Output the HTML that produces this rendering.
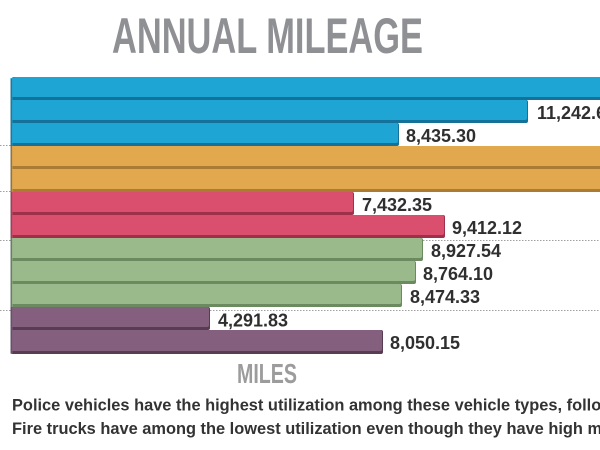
<!DOCTYPE html>
<html>
<head>
<meta charset="utf-8">
<style>
  html, body { margin: 0; padding: 0; background: #ffffff; }
  body { width: 600px; height: 450px; overflow: hidden; }
  svg { display: block; }
  text { font-family: "Liberation Sans", "DejaVu Sans", sans-serif; }
</style>
</head>
<body>
<svg width="600" height="450" viewBox="0 0 600 450" xmlns="http://www.w3.org/2000/svg">
  <rect x="0" y="0" width="600" height="450" fill="#ffffff"/>

  <!-- Title -->
  <text x="112" y="53" font-size="50" font-weight="bold" fill="#8f9094" textLength="311" lengthAdjust="spacingAndGlyphs">ANNUAL MILEAGE</text>

  <!-- gridlines / ticks -->
  <g stroke="#a0a0a0" stroke-width="1" stroke-dasharray="1.5 1.5" fill="none">
    <line x1="0" y1="145.5" x2="11" y2="145.5"/>
    <line x1="0" y1="191.5" x2="11" y2="191.5"/>
    <line x1="0" y1="240.5" x2="600" y2="240.5"/>
    <line x1="0" y1="310.5" x2="600" y2="310.5"/>
  </g>

  <!-- Bars -->
  <!-- blue -->
  <rect x="11" y="77" width="600" height="23" rx="3" fill="#14729a"/>
  <rect x="12.5" y="77" width="600" height="20" rx="3" fill="#1ea5d3"/>

  <rect x="11" y="100" width="517" height="23" rx="2" fill="#14729a"/>
  <rect x="12.5" y="100" width="514.5" height="20" rx="2" fill="#1ea5d3"/>

  <rect x="11" y="123" width="388" height="23" rx="2" fill="#14729a"/>
  <rect x="12.5" y="123" width="385.5" height="20" rx="2" fill="#1ea5d3"/>

  <!-- orange -->
  <rect x="11" y="146" width="600" height="23" fill="#a97b34"/>
  <rect x="12.5" y="146" width="600" height="20" fill="#e2a84e"/>
  <rect x="11" y="169" width="600" height="23" fill="#a97b34"/>
  <rect x="12.5" y="169" width="600" height="20" fill="#e2a84e"/>

  <!-- pink -->
  <rect x="11" y="192" width="343" height="23" rx="2" fill="#9f3049"/>
  <rect x="12.5" y="192" width="340.5" height="20" rx="2" fill="#d94f6d"/>
  <rect x="11" y="215" width="434" height="23" rx="2" fill="#9f3049"/>
  <rect x="12.5" y="215" width="431.5" height="20" rx="2" fill="#d94f6d"/>

  <!-- green -->
  <rect x="11" y="238" width="412" height="23" rx="2" fill="#6b8a60"/>
  <rect x="12.5" y="238" width="409.5" height="20" rx="2" fill="#9bba8c"/>
  <rect x="11" y="261" width="405" height="23" rx="2" fill="#6b8a60"/>
  <rect x="12.5" y="261" width="402.5" height="20" rx="2" fill="#9bba8c"/>
  <rect x="11" y="284" width="391" height="23" rx="2" fill="#6b8a60"/>
  <rect x="12.5" y="284" width="388.5" height="20" rx="2" fill="#9bba8c"/>

  <!-- purple -->
  <rect x="11" y="307" width="199" height="23" rx="2" fill="#573c52"/>
  <rect x="12.5" y="307" width="196.5" height="20" rx="2" fill="#85607e"/>
  <rect x="11" y="330" width="372" height="24" rx="2" fill="#573c52"/>
  <rect x="12.5" y="330" width="369.5" height="21" rx="2" fill="#85607e"/>

  <!-- square off left edges with a continuous dark stripe -->
  <rect x="10.5" y="78" width="4" height="22" fill="#1ea5d3"/>
  <rect x="10.5" y="100" width="4" height="46" fill="#1ea5d3"/>
  <rect x="10.5" y="146" width="4" height="46" fill="#e2a84e"/>
  <rect x="10.5" y="192" width="4" height="46" fill="#d94f6d"/>
  <rect x="10.5" y="238" width="4" height="69" fill="#9bba8c"/>
  <rect x="10.5" y="307" width="4" height="46" fill="#85607e"/>
  <g fill="#14729a">
    <rect x="12.5" y="97" width="2" height="3"/>
    <rect x="12.5" y="120" width="2" height="3"/>
    <rect x="12.5" y="143" width="2" height="3"/>
  </g>
  <g fill="#a97b34">
    <rect x="12.5" y="166" width="2" height="3"/>
    <rect x="12.5" y="189" width="2" height="3"/>
  </g>
  <g fill="#9f3049">
    <rect x="12.5" y="212" width="2" height="3"/>
    <rect x="12.5" y="235" width="2" height="3"/>
  </g>
  <g fill="#6b8a60">
    <rect x="12.5" y="258" width="2" height="3"/>
    <rect x="12.5" y="281" width="2" height="3"/>
    <rect x="12.5" y="304" width="2" height="3"/>
  </g>
  <g fill="#573c52">
    <rect x="12.5" y="327" width="2" height="3"/>
    <rect x="12.5" y="351" width="2" height="3"/>
  </g>
  <rect x="10.5" y="79" width="1.6" height="275" fill="#3f4a55" opacity="0.55"/>

  <!-- Value labels -->
  <g font-size="18" font-weight="bold" fill="#2f2f2f">
    <text x="537" y="119">11,242.68</text>
    <text x="406" y="142">8,435.30</text>
    <text x="362" y="211">7,432.35</text>
    <text x="452" y="234">9,412.12</text>
    <text x="431" y="257">8,927.54</text>
    <text x="423" y="280">8,764.10</text>
    <text x="410" y="303">8,474.33</text>
    <text x="218" y="326.5">4,291.83</text>
    <text x="390" y="349">8,050.15</text>
  </g>

  <!-- Axis label -->
  <text x="237" y="383" font-size="28" font-weight="bold" fill="#9c9c9c" textLength="60" lengthAdjust="spacingAndGlyphs">MILES</text>

  <!-- Caption -->
  <g font-size="17" font-weight="bold" fill="#333333">
    <text transform="translate(12,410.5) scale(0.965,1)">Police vehicles have the highest utilization among these vehicle types, followed</text>
    <text transform="translate(12,434) scale(0.965,1)">Fire trucks have among the lowest utilization even though they have high maintenance</text>
  </g>
</svg>
</body>
</html>
